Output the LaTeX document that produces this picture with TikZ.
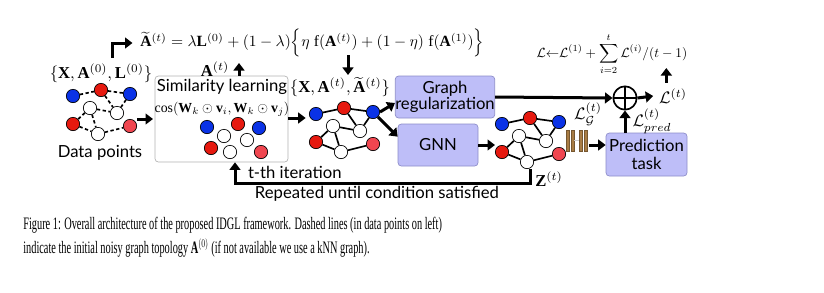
\documentclass[tikz,border=0pt]{standalone}
\usepackage{amsmath}
\usepackage{graphicx}
\usepackage{fontspec}
\setmainfont{Liberation Serif}
\setsansfont{Lato}
\usetikzlibrary{
    arrows.meta,
    calc,
    positioning
}
\definecolor{ptblue}{RGB}{10,50,230}
\definecolor{ptred}{RGB}{230,25,15}
\definecolor{ptpink}{RGB}{240,70,80}
\definecolor{boxfill}{RGB}{190,190,248}
\definecolor{boxline}{RGB}{140,140,200}
\definecolor{barbrown}{RGB}{168,124,68}
\tikzset{
  pt/.style={
    circle,
    draw=black,
    line width=0.4pt,
    minimum size=8pt,
    inner sep=0pt
  },
  bpt/.style={pt, fill=ptblue},
  rpt/.style={pt, fill=ptred},
  lpt/.style={pt, fill=ptpink},
  wpt/.style={pt, fill=white},
  sedge/.style={line width=1pt},
  dedge/.style={line width=1pt, dash pattern=on 2pt off 1.5pt},
  flow/.style={-{Triangle[length=4.5pt,width=6.5pt]}, line width=1.8pt},
  simbox/.style={draw=gray!60, rounded corners=2pt, fill=white, inner sep=0pt},
  lavbox/.style={
    draw=boxline,
    fill=boxfill,
    rounded corners=2pt,
    align=center,
    font=\sffamily,
    inner sep=0pt
  },
  lab/.style={font=\sffamily, inner sep=1pt},
  bar/.style={draw=barbrown!70!black, line width=0.3pt, fill=barbrown},
  capline/.style={anchor=west, inner sep=0pt, font=\fontsize{10.5}{12}\selectfont}
}
% one small graph of eight points
\newcommand{\pointgraph}[4]{%
  \begin{scope}[shift={(#2,#3)}]
    \node[bpt] (#1b1) at (0,0) {};
    \node[rpt] (#1r1) at (28,-6) {};
    \node[bpt] (#1b2) at (57,-2) {};
    \node[wpt] (#1w1) at (17,12) {};
    \node[wpt] (#1w2) at (44,17) {};
    \node[rpt] (#1r2) at (0,28) {};
    \node[wpt] (#1w3) at (25,38) {};
    \node[lpt] (#1r3) at (57,30) {};
  \end{scope}
  \foreach \pa/\pb in {b1/r1, r1/b2, r1/w2, b2/w2, w1/w2, w1/r2, w1/w3, r2/w3, w3/r3}
    \draw[#4] (#1\pa) -- (#1\pb);
}

\begin{document}
\begin{tikzpicture}[x=0.6pt,y=-0.6pt]
    \useasboundingbox (0,0) rectangle (824,292);

    % data points
    \node (init) at (101,73) {$\{\mathbf{X},\mathbf{A}^{(0)},\mathbf{L}^{(0)}\}$};
    \pointgraph{g1}{73}{96}{dedge}
    \node[lab] (dp) at (100,153) {Data points};

    % similarity learning
    \node[simbox, minimum width=79.8pt, minimum height=51.6pt] (sim) at (221.5,119) {};
    \node[lab] (simt) at (222,87) {Similarity learning};
    \node[inner sep=0pt] (cos) at (222,109)
        {\scalebox{0.83}{$\cos(\mathbf{W}_k\odot\mathbf{v}_i,\mathbf{W}_k\odot\mathbf{v}_j)$}};
    \node[bpt] (s1) at (207,127) {};
    \node[rpt] (s2) at (238,124) {};
    \node[bpt] (s3) at (259,128) {};
    \node[wpt] (s4) at (224,136) {};
    \node[wpt] (s5) at (247,140) {};
    \node[rpt] (s6) at (211,148) {};
    \node[wpt] (s7) at (230,152) {};
    \node[lpt] (s8) at (261,152) {};
    \draw[flow, shorten >=1pt] (g1b2.east |- sim.west) -- (sim.west);

    % graph update
    \node[inner sep=0pt, anchor=west] (upd) at (140,43)
        {\scalebox{0.935}{$\widetilde{\mathbf{A}}^{(t)} = \lambda\mathbf{L}^{(0)} + (1-\lambda)\Big\{\eta\;\mathrm{f}(\mathbf{A}^{(t)}) + (1-\eta)\;\mathrm{f}(\mathbf{A}^{(1)})\Big\}$}};
    \draw[flow, shorten >=4.5pt] ([xshift=7pt]init.north) |- (upd.west);
    \coordinate (atop) at (239,63);
    \draw[flow] (sim.north -| atop) -- (atop);
    \node (alab) at (215,69) {$\mathbf{A}^{(t)}$};

    % learned graph
    \node[inner sep=1pt] (cur) at (340,87) {$\{\mathbf{X},\mathbf{A}^{(t)},\widetilde{\mathbf{A}}^{(t)}\}$};
    \coordinate (dtop) at (348,55);
    \draw[flow] (dtop) -- (dtop |- cur.north);
    \pointgraph{g2}{316}{114}{sedge}
    \draw[flow] (sim.east |- 0,118) -- ([xshift=-2pt]g2b1.west |- 0,118);

    % regularization and gnn
    \node[lavbox, minimum width=57.6pt, minimum height=25.2pt] (greg) at (445,97) {Graph\\[-2pt]regularization};
    \node[lavbox, minimum width=48pt, minimum height=25.2pt] (gnn) at (438,145) {GNN};
    \draw[flow] (g2b2.east) -- ([yshift=-3.6pt]greg.west);
    \draw[flow] (g2b2.south east) -- ([yshift=5pt]gnn.west);

    % node embeddings
    \pointgraph{g3}{502}{124}{sedge}
    \draw[flow] (gnn.east) -- (gnn.east -| g3r2.west);
    \node (zlab) at (549,179) {$\mathbf{Z}^{(t)}$};
    \foreach \bx in {566,571,579,584}
      \draw[bar] (\bx,130) rectangle ++(3,21);
    \draw[gray!40, line width=0.4pt] (574,140) -- (579,140);

    % prediction and loss
    \node[lavbox, minimum width=48.6pt, minimum height=25.8pt] (pred) at (646.5,154.5) {Prediction\\[-1pt]task};
    \coordinate (barend) at (589,145);
    \draw[flow] (barend) -- (barend -| pred.west);
    \node[circle, draw, line width=1pt, minimum size=14pt, inner sep=0pt,
        path picture={\draw[line width=1pt]
            (path picture bounding box.north) -- (path picture bounding box.south)
            (path picture bounding box.west) -- (path picture bounding box.east);}]
        (plus) at (625,98) {};
    \draw[flow] (greg.east) -- (plus.west);
    \node[inner sep=0pt] (lg) at (588,114) {$\mathcal{L}_{\mathcal{G}}^{(t)}$};
    \draw[flow] (plus |- pred.north) -- (plus.south);
    \node[inner sep=0pt] (lp) at (652,121) {$\mathcal{L}_{pred}^{(t)}$};
    \node (lt) at (673,96) {$\mathcal{L}^{(t)}$};
    \draw[flow] (plus.east) -- (lt.west);
    \node[inner sep=0pt] (tot) at (612,54)
        {\scalebox{0.8}{$\displaystyle\mathcal{L}{\leftarrow}\mathcal{L}^{(1)}+\sum_{i=2}^{t}\mathcal{L}^{(i)}/(t-1)$}};
    \draw[flow] ([xshift=-4pt]lt.north) -- ([xshift=-4pt]lt.north |- 0,68);

    % iteration loop
    \coordinate (back) at (235,183);
    \draw[flow] ([xshift=2pt]g3w3.south) |- (back) -- (back |- sim.south);
    \node[lab, anchor=west] (iter) at (246,172) {t-th iteration};
    \node[lab] (rep) at (377,194) {Repeated until condition satisfied};

    % caption
    \node[capline] (cap1) at (23,225)
        {\scalebox{0.59}[1]{Figure 1: Overall architecture of the proposed IDGL framework. Dashed lines (in data points on left)}};
    \node[capline] (cap2) at (23,248)
        {\scalebox{0.59}[1]{indicate the initial noisy graph topology $\mathbf{A}^{(0)}$ (if not available we use a kNN graph).}};
\end{tikzpicture}
\end{document}
